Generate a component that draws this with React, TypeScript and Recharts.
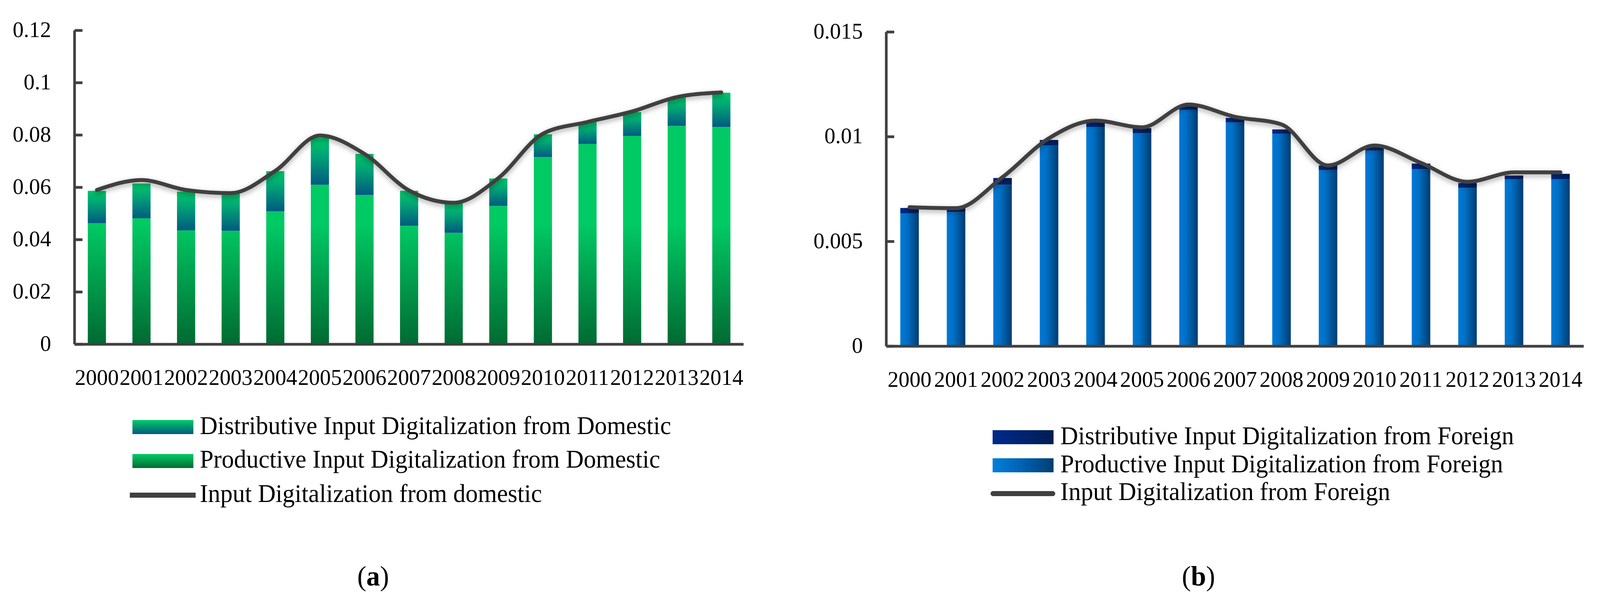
import React from "react";
import { ComposedChart, Bar, Line, XAxis, YAxis } from "recharts";

const years = ["2000", "2001", "2002", "2003", "2004", "2005", "2006", "2007", "2008", "2009", "2010", "2011", "2012", "2013", "2014"];

// panel (a) domestic
const domesticProductive = [0.0463, 0.0482, 0.0436, 0.0434, 0.0509, 0.061, 0.0571, 0.0453, 0.0426, 0.0529, 0.0716, 0.0766, 0.0797, 0.0835, 0.0831];
const domesticDistributive = [0.0124, 0.0133, 0.0148, 0.0147, 0.0153, 0.018, 0.0157, 0.0134, 0.0112, 0.0105, 0.0087, 0.0084, 0.0091, 0.0108, 0.0131];
const domesticTotal = [0.059, 0.0628, 0.059, 0.0578, 0.0663, 0.0798, 0.0728, 0.0588, 0.0541, 0.0635, 0.0805, 0.085, 0.089, 0.0945, 0.0963];
const yTicksA = [0, 0.02, 0.04, 0.06, 0.08, 0.1, 0.12];

// panel (b) foreign
const foreignProductive = [0.00634, 0.0064, 0.00771, 0.00958, 0.01047, 0.01017, 0.01128, 0.01068, 0.01014, 0.00841, 0.00934, 0.00845, 0.00756, 0.00797, 0.00797];
const foreignDistributive = [0.00026, 0.00026, 0.00032, 0.00027, 0.00021, 0.00024, 0.00017, 0.00022, 0.00021, 0.00022, 0.00018, 0.00027, 0.00023, 0.00018, 0.00026];
const foreignTotal = [0.00664, 0.00659, 0.00807, 0.00993, 0.01077, 0.01045, 0.01154, 0.01095, 0.01059, 0.00863, 0.00958, 0.00875, 0.00785, 0.0083, 0.0083];
const yTicksB = [0, 0.005, 0.01, 0.015];

const domesticData = years.map((year, i) => ({
  year,
  productive: domesticProductive[i],
  distributive: domesticDistributive[i],
  total: domesticTotal[i],
}));

const foreignData = years.map((year, i) => ({
  year,
  productive: foreignProductive[i],
  distributive: foreignDistributive[i],
  total: foreignTotal[i],
}));

const FONT = "'Liberation Serif', 'Times New Roman', serif";
const AXIS = "#404040";
// the visible page is a little narrower than the figure, squeeze it horizontally to fit
const FIT_X = 4096 / 4228;

const YTick = (props: any) => {
  const { x, y, payload } = props;
  return (
    <g>
      <line x1={x} x2={x + 21} y1={y} y2={y} stroke={AXIS} strokeWidth={7} />
      <text x={x - 62} y={y + 17} textAnchor="end" fontSize={58} fontFamily={FONT} fill="#000">
        {String(payload.value)}
      </text>
    </g>
  );
};

const XTick = (props: any) => {
  const { x, y, payload } = props;
  return (
    <text x={x} y={y + 104} textAnchor="middle" fontSize={58} fontFamily={FONT} fill="#000">
      {payload.value}
    </text>
  );
};

const ShadowFilter = ({ id }: { id: string }) => (
  <filter id={id} filterUnits="userSpaceOnUse" x={0} y={0} width={2200} height={1040}>
    <feDropShadow dx={0} dy={5} stdDeviation={7} floodColor="#000" floodOpacity={0.35} />
  </filter>
);

function DomesticChart() {
  return (
    <ComposedChart
      width={2000}
      height={1040}
      data={domesticData}
      margin={{ top: 78, right: 35, bottom: 0, left: 0 }}
      barCategoryGap={0}
    >
      <defs>
        <linearGradient id="domProd" gradientUnits="userSpaceOnUse" x1={0} y1={574} x2={0} y2={882}>
          <stop offset="0" stopColor="#00CA64" />
          <stop offset="1" stopColor="#006A32" />
        </linearGradient>
        <linearGradient id="domDist" x1="0" y1="0" x2="0" y2="1">
          <stop offset="0" stopColor="#00C468" />
          <stop offset="0.35" stopColor="#00A874" />
          <stop offset="1" stopColor="#005A80" />
        </linearGradient>
        <ShadowFilter id="shadowA" />
      </defs>
      <XAxis
        dataKey="year"
        interval={0}
        height={158}
        tickSize={0}
        tickMargin={0}
        tickLine={false}
        axisLine={{ stroke: AXIS, strokeWidth: 7 }}
        tick={<XTick />}
      />
      <YAxis
        domain={[0, 0.12]}
        ticks={yTicksA}
        width={197}
        tickSize={0}
        tickMargin={0}
        tickLine={false}
        axisLine={{ stroke: AXIS, strokeWidth: 7 }}
        tick={<YTick />}
      />
      <Bar dataKey="productive" stackId="a" barSize={48} fill="url(#domProd)" isAnimationActive={false} />
      <Bar dataKey="distributive" stackId="a" barSize={48} fill="url(#domDist)" isAnimationActive={false} />
      <Line
        dataKey="total"
        type="monotone"
        stroke={AXIS}
        strokeWidth={10}
        strokeLinecap="round"
        dot={false}
        activeDot={false}
        filter="url(#shadowA)"
        isAnimationActive={false}
      />
    </ComposedChart>
  );
}

function ForeignChart() {
  return (
    <ComposedChart
      width={2114}
      height={1040}
      data={foreignData}
      margin={{ top: 82, right: 43, bottom: 0, left: 0 }}
      barCategoryGap={0}
    >
      <defs>
        <linearGradient id="forProd" x1="0" y1="0" x2="1" y2="0">
          <stop offset="0" stopColor="#0078D6" />
          <stop offset="0.35" stopColor="#0070C6" />
          <stop offset="1" stopColor="#003C70" />
        </linearGradient>
        <linearGradient id="forDist" x1="0" y1="0" x2="1" y2="0">
          <stop offset="0" stopColor="#00288C" />
          <stop offset="1" stopColor="#001C50" />
        </linearGradient>
        <ShadowFilter id="shadowB" />
      </defs>
      <XAxis
        dataKey="year"
        interval={0}
        height={153}
        tickSize={0}
        tickMargin={0}
        tickLine={false}
        axisLine={{ stroke: AXIS, strokeWidth: 7 }}
        tick={<XTick />}
      />
      <YAxis
        domain={[0, 0.015]}
        ticks={yTicksB}
        width={228}
        tickSize={0}
        tickMargin={0}
        tickLine={false}
        axisLine={{ stroke: AXIS, strokeWidth: 7 }}
        tick={<YTick />}
      />
      <Bar dataKey="productive" stackId="b" barSize={49} fill="url(#forProd)" isAnimationActive={false} />
      <Bar dataKey="distributive" stackId="b" barSize={49} fill="url(#forDist)" isAnimationActive={false} />
      <Line
        dataKey="total"
        type="monotone"
        stroke={AXIS}
        strokeWidth={10}
        strokeLinecap="round"
        dot={false}
        activeDot={false}
        filter="url(#shadowB)"
        isAnimationActive={false}
      />
    </ComposedChart>
  );
}

function LegendA() {
  return (
    <svg width={2114} height={555} style={{ position: "absolute", left: 0, top: 1000 }}>
      <defs>
        <linearGradient id="lgDomDist" x1="0" y1="0" x2="0" y2="1">
          <stop offset="0" stopColor="#00CC66" />
          <stop offset="1" stopColor="#005A80" />
        </linearGradient>
        <linearGradient id="lgDomProd" x1="0" y1="0" x2="0" y2="1">
          <stop offset="0" stopColor="#00CC66" />
          <stop offset="1" stopColor="#006A32" />
        </linearGradient>
      </defs>
      <g fontFamily={FONT} fontSize={65} fill="#000">
        <rect x={350} y={76} width={161} height={36} fill="url(#lgDomDist)" />
        <text x={528} y={112}>Distributive Input Digitalization from Domestic</text>
        <rect x={350} y={163} width={161} height={36} fill="url(#lgDomProd)" />
        <text x={528} y={198}>Productive Input Digitalization from Domestic</text>
        <line x1={343} x2={517} y1={268.5} y2={268.5} stroke={AXIS} strokeWidth={13} />
        <text x={528} y={286}>Input Digitalization from domestic</text>
        <text x={986} y={500} textAnchor="middle" fontSize={72}>
          (<tspan fontWeight="bold">a</tspan>)
        </text>
      </g>
    </svg>
  );
}

function LegendB() {
  return (
    <svg width={2114} height={555} style={{ position: "absolute", left: 2114, top: 1000 }}>
      <defs>
        <linearGradient id="lgForDist" x1="0" y1="0" x2="1" y2="0">
          <stop offset="0" stopColor="#00298C" />
          <stop offset="1" stopColor="#001E52" />
        </linearGradient>
        <linearGradient id="lgForProd" x1="0" y1="0" x2="1" y2="0">
          <stop offset="0" stopColor="#0080DA" />
          <stop offset="0.5" stopColor="#0060B0" />
          <stop offset="1" stopColor="#003F72" />
        </linearGradient>
      </defs>
      <g fontFamily={FONT} fontSize={65} fill="#000">
        <rect x={509} y={102} width={161} height={36} fill="url(#lgForDist)" />
        <text x={688} y={138}>Distributive Input Digitalization from Foreign</text>
        <rect x={509} y={174} width={161} height={36} fill="url(#lgForProd)" />
        <text x={688} y={210}>Productive Input Digitalization from Foreign</text>
        <line x1={510} x2={668} y1={264.5} y2={264.5} stroke={AXIS} strokeWidth={13} strokeLinecap="round" />
        <text x={688} y={281}>Input Digitalization from Foreign</text>
        <text x={1053} y={500} textAnchor="middle" fontSize={72}>
          (<tspan fontWeight="bold">b</tspan>)
        </text>
      </g>
    </svg>
  );
}

export default function App() {
  return (
    <div
      style={{
        position: "absolute",
        left: 0,
        top: 0,
        width: 4228,
        height: 1555,
        background: "#fff",
        transform: `scaleX(${FIT_X})`,
        transformOrigin: "0 0",
      }}
    >
      <div style={{ position: "absolute", left: 0, top: 0 }}>
        <DomesticChart />
      </div>
      <div style={{ position: "absolute", left: 2114, top: 0 }}>
        <ForeignChart />
      </div>
      <LegendA />
      <LegendB />
    </div>
  );
}
